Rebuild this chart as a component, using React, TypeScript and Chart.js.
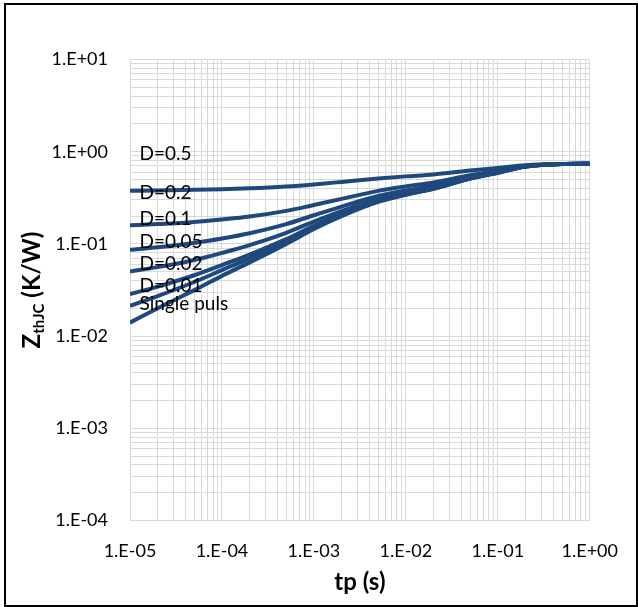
import React, { useEffect, useRef } from "react";
import { Chart, registerables } from "chart.js";

Chart.register(...registerables);

// Pulse duration tp (s)
const tp = [1e-5, 2e-5, 5e-5, 1e-4, 2e-4, 5e-4, 1e-3, 2e-3, 5e-3, 1e-2, 2e-2, 5e-2, 1e-1, 2e-1, 5e-1, 1];

// Zth,JC (K/W) for each duty cycle
const zD05 = [0.377, 0.380, 0.386, 0.392, 0.401, 0.420, 0.442, 0.470, 0.512, 0.540, 0.567, 0.625, 0.665, 0.715, 0.737, 0.740];
const zD02 = [0.159, 0.164, 0.173, 0.184, 0.198, 0.228, 0.264, 0.308, 0.376, 0.420, 0.464, 0.556, 0.620, 0.700, 0.736, 0.740];
const zD01 = [0.0866, 0.092, 0.1024, 0.1145, 0.1307, 0.164, 0.2045, 0.254, 0.3305, 0.380, 0.4295, 0.533, 0.605, 0.695, 0.7355, 0.740];
const zD005 = [0.0503, 0.056, 0.0669, 0.0798, 0.0969, 0.132, 0.1748, 0.227, 0.3078, 0.360, 0.4123, 0.5215, 0.5975, 0.6925, 0.735, 0.740];
const zD002 = [0.0285, 0.0344, 0.0457, 0.0589, 0.0765, 0.1128, 0.1569, 0.2108, 0.2941, 0.348, 0.4019, 0.5146, 0.593, 0.691, 0.735, 0.740];
const zD001 = [0.0213, 0.0272, 0.0386, 0.052, 0.0698, 0.1064, 0.151, 0.2054, 0.2896, 0.344, 0.3984, 0.5124, 0.5915, 0.6905, 0.7351, 0.740];
const zSingle = [0.014, 0.020, 0.0315, 0.045, 0.063, 0.100, 0.145, 0.200, 0.285, 0.340, 0.395, 0.510, 0.590, 0.690, 0.735, 0.740];

const seriesNames = ["D=0.5", "D=0.2", "D=0.1", "D=0.05", "D=0.02", "D=0.01", "Single puls"];
const seriesValues = [zD05, zD02, zD01, zD005, zD002, zD001, zSingle];

// Curve labels placed in data coordinates
const labelX = [1.27e-5, 1.27e-5, 1.27e-5, 1.27e-5, 1.27e-5, 1.27e-5, 1.27e-5];
const labelY = [0.94, 0.361, 0.185, 0.105, 0.0603, 0.0351, 0.0222];

// Axis ticks
const xDecades = [-5, -4, -3, -2, -1, 0];
const xTickLabels = ["1.E-05", "1.E-04", "1.E-03", "1.E-02", "1.E-01", "1.E+00"];
const yDecades = [-4, -3, -2, -1, 0, 1];
const yTickLabels = ["1.E-04", "1.E-03", "1.E-02", "1.E-01", "1.E+00", "1.E+01"];

const xTitle = "tp (s)";
const yTitleMain = "Z";
const yTitleSub = "thJC";
const yTitleRest = " (K/W)";

const LINE_COLOR = "#1F497D";
const GRID_COLOR = "#d9d9d9";
const FONT = "Lato, 'Open Sans', sans-serif";

function logTicks(decades: number[]) {
  const out: { value: number }[] = [];
  for (let i = 0; i < decades.length; i++) {
    const base = Math.pow(10, decades[i]);
    if (i === decades.length - 1) {
      out.push({ value: base });
    } else {
      for (let m = 1; m <= 9; m++) out.push({ value: parseFloat((m * base).toPrecision(6)) });
    }
  }
  return out;
}

function labelFor(value: number, decades: number[], labels: string[]) {
  for (let i = 0; i < decades.length; i++) {
    const b = Math.pow(10, decades[i]);
    if (Math.abs(value - b) / b < 1e-6) return labels[i];
  }
  return "";
}

const PLOT_LEFT = 130;
const PLOT_RIGHT = 593;
const PLOT_TOP = 59.5;
const PLOT_BOTTOM = 520.5;
const W = 638;
const H = 607;

export default function App() {
  const ref = useRef<HTMLCanvasElement | null>(null);

  useEffect(() => {
    document.body.style.margin = "0";
    const canvas = ref.current;
    if (!canvas) return;

    const overlay = {
      id: "overlay",
      afterDatasetsDraw(chart: any) {
        const ctx = chart.ctx;
        const xs = chart.scales.x;
        const ys = chart.scales.y;
        ctx.save();
        ctx.fillStyle = "#000";
        ctx.font = `19px ${FONT}`;
        ctx.textAlign = "left";
        ctx.textBaseline = "middle";
        for (let i = 0; i < seriesNames.length; i++) {
          ctx.fillText(seriesNames[i], xs.getPixelForValue(labelX[i]), ys.getPixelForValue(labelY[i]));
        }
        ctx.restore();
      },
      afterDraw(chart: any) {
        const ctx = chart.ctx;
        const ca = chart.chartArea;
        ctx.save();
        ctx.fillStyle = "#000";
        ctx.font = `bold 24px ${FONT}`;
        ctx.textAlign = "center";
        ctx.textBaseline = "middle";
        ctx.fillText(xTitle, (ca.left + ca.right) / 2, 582);
        ctx.translate(32, (ca.top + ca.bottom) / 2);
        ctx.rotate(-Math.PI / 2);
        const big = `bold 24px ${FONT}`;
        const small = `bold 15px ${FONT}`;
        ctx.font = big;
        const w1 = ctx.measureText(yTitleMain).width;
        const w3 = ctx.measureText(yTitleRest).width;
        ctx.font = small;
        const w2 = ctx.measureText(yTitleSub).width;
        const total = w1 + w2 + w3;
        let x = -total / 2;
        ctx.textAlign = "left";
        ctx.textBaseline = "alphabetic";
        ctx.font = big;
        ctx.fillText(yTitleMain, x, 8);
        x += w1;
        ctx.font = small;
        ctx.fillText(yTitleSub, x, 12);
        x += w2;
        ctx.font = big;
        ctx.fillText(yTitleRest, x, 8);
        ctx.restore();
        ctx.save();
        ctx.strokeStyle = "#000";
        ctx.lineWidth = 2;
        ctx.strokeRect(5, 4, 632, 602);
        ctx.restore();
      },
    };

    const chart = new Chart(canvas, {
      type: "line",
      data: {
        datasets: seriesNames.map((name, i) => ({
          label: name,
          data: tp.map((t, j) => ({ x: t, y: seriesValues[i][j] })),
          borderColor: LINE_COLOR,
          backgroundColor: LINE_COLOR,
          borderWidth: 4,
          pointRadius: 0,
          cubicInterpolationMode: "monotone" as const,
          fill: false,
        })),
      },
      options: {
        animation: false,
        responsive: false,
        devicePixelRatio: 1,
        layout: { padding: { left: 0, right: W - PLOT_RIGHT, top: PLOT_TOP, bottom: 0 } },
        plugins: {
          legend: { display: false },
          tooltip: { enabled: false },
          title: { display: false },
        },
        scales: {
          x: {
            type: "logarithmic",
            min: 1e-5,
            max: 1,
            afterBuildTicks: (s: any) => {
              s.ticks = logTicks(xDecades);
            },
            afterFit: (s: any) => {
              s.height = H - PLOT_BOTTOM;
            },
            grid: { color: GRID_COLOR, lineWidth: 1, drawTicks: false },
            border: { display: false },
            ticks: {
              autoSkip: false,
              maxRotation: 0,
              minRotation: 0,
              padding: 20,
              color: "#000",
              font: { family: FONT, size: 18 },
              callback: (v: any) => labelFor(Number(v), xDecades, xTickLabels),
            },
          },
          y: {
            type: "logarithmic",
            min: 1e-4,
            max: 10,
            afterBuildTicks: (s: any) => {
              s.ticks = logTicks(yDecades);
            },
            afterFit: (s: any) => {
              s.width = PLOT_LEFT;
            },
            grid: { color: GRID_COLOR, lineWidth: 1, drawTicks: false },
            border: { display: false },
            ticks: {
              autoSkip: false,
              padding: 22,
              color: "#000",
              font: { family: FONT, size: 18 },
              callback: (v: any) => labelFor(Number(v), yDecades, yTickLabels),
            },
          },
        },
      },
      plugins: [overlay],
    });

    return () => chart.destroy();
  }, []);

  return (
    <div style={{ width: W, height: H, background: "#fff" }}>
      <canvas ref={ref} width={W} height={H} style={{ display: "block" }} />
    </div>
  );
}
